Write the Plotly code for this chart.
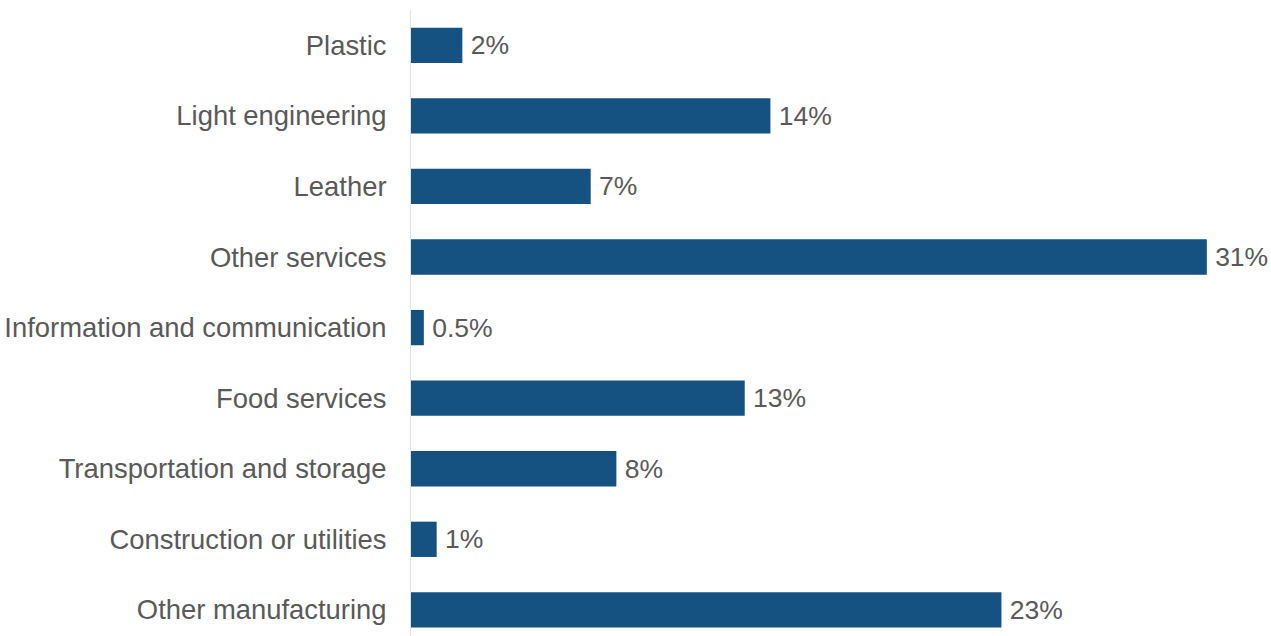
import plotly.graph_objects as go

# Share of firms by sector (%)
sectors = [
    "Plastic",
    "Light engineering",
    "Leather",
    "Other services",
    "Information and communication",
    "Food services",
    "Transportation and storage",
    "Construction or utilities",
    "Other manufacturing",
]
shares = [2, 14, 7, 31, 0.5, 13, 8, 1, 23]
labels = ["2%", "14%", "7%", "31%", "0.5%", "13%", "8%", "1%", "23%"]

BAR_COLOR = "#155282"
TEXT_COLOR = "#595959"
FONT = "Liberation Sans, Arial, sans-serif"

fig = go.Figure(
    go.Bar(
        x=shares,
        y=sectors,
        orientation="h",
        marker=dict(color=BAR_COLOR, line=dict(width=0)),
        text=["\u2009" + t for t in labels],
        textposition="outside",
        constraintext="none",
        cliponaxis=False,
        textfont=dict(family=FONT, size=26.5, color=TEXT_COLOR),
        hoverinfo="skip",
    )
)

fig.update_layout(
    width=1271,
    height=636,
    margin=dict(l=411, r=0, t=10, b=0, autoexpand=False),
    paper_bgcolor="white",
    plot_bgcolor="white",
    bargap=0.5,
    showlegend=False,
    font=dict(family=FONT, size=27, color=TEXT_COLOR),
)

fig.update_xaxes(
    range=[0, 33.5],
    showgrid=False,
    zeroline=False,
    showticklabels=False,
    showline=False,
    ticks="",
)

fig.update_yaxes(
    type="category",
    range=[8.37, -0.5],
    showgrid=False,
    zeroline=False,
    showline=True,
    linecolor="#e3e3e3",
    linewidth=1,
    ticks="",
    ticklabelstandoff=18,
    tickfont=dict(family=FONT, size=27.4, color=TEXT_COLOR),
    automargin=False,
)

fig.write_html("out.html")
